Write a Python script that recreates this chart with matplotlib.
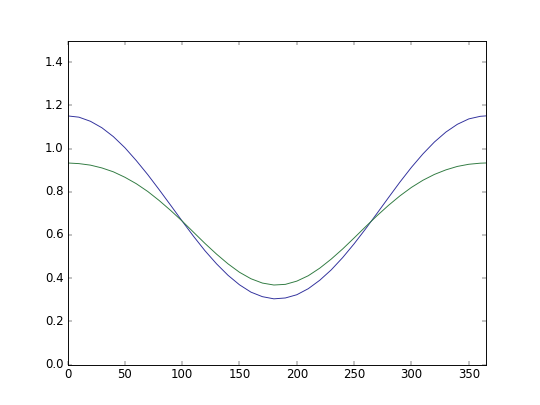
import matplotlib
matplotlib.use("Agg")
import matplotlib.pyplot as plt

plt.style.use("classic")

# day of year
days = [0, 10, 20, 30, 40, 50, 60, 70, 80, 90, 100, 110, 120, 130, 140, 150,
        160, 170, 180, 190, 200, 210, 220, 230, 240, 250, 260, 270, 280, 290,
        300, 310, 320, 330, 340, 350, 360, 365]

blue_vals = [1.151, 1.145, 1.126, 1.096, 1.055, 1.004, 0.944, 0.879, 0.809,
             0.737, 0.664, 0.593, 0.526, 0.466, 0.413, 0.369, 0.335, 0.314,
             0.304, 0.308, 0.323, 0.351, 0.390, 0.438, 0.495, 0.559, 0.628,
             0.700, 0.773, 0.845, 0.913, 0.975, 1.030, 1.076, 1.112, 1.137,
             1.149, 1.151]

green_vals = [0.933, 0.930, 0.923, 0.910, 0.892, 0.867, 0.837, 0.801, 0.759,
              0.713, 0.664, 0.612, 0.560, 0.511, 0.466, 0.427, 0.397, 0.377,
              0.368, 0.371, 0.386, 0.411, 0.446, 0.488, 0.535, 0.586, 0.638,
              0.689, 0.737, 0.781, 0.820, 0.853, 0.880, 0.901, 0.917, 0.927,
              0.932, 0.933]

fig = plt.figure(figsize=(8, 6), dpi=67.5)
ax = fig.add_subplot(111)

ax.plot(days, blue_vals, color="#2f2f9c")
ax.plot(days, green_vals, color="#2f7a40")

ax.set_xlim(0, 365)
ax.set_ylim(0, 1.5)
ax.set_xticks([0, 50, 100, 150, 200, 250, 300, 350])
ax.set_yticks([0.0, 0.2, 0.4, 0.6, 0.8, 1.0, 1.2, 1.4])
ax.tick_params(labelsize=12.5)

fig.savefig("out.png", dpi=67.5)
